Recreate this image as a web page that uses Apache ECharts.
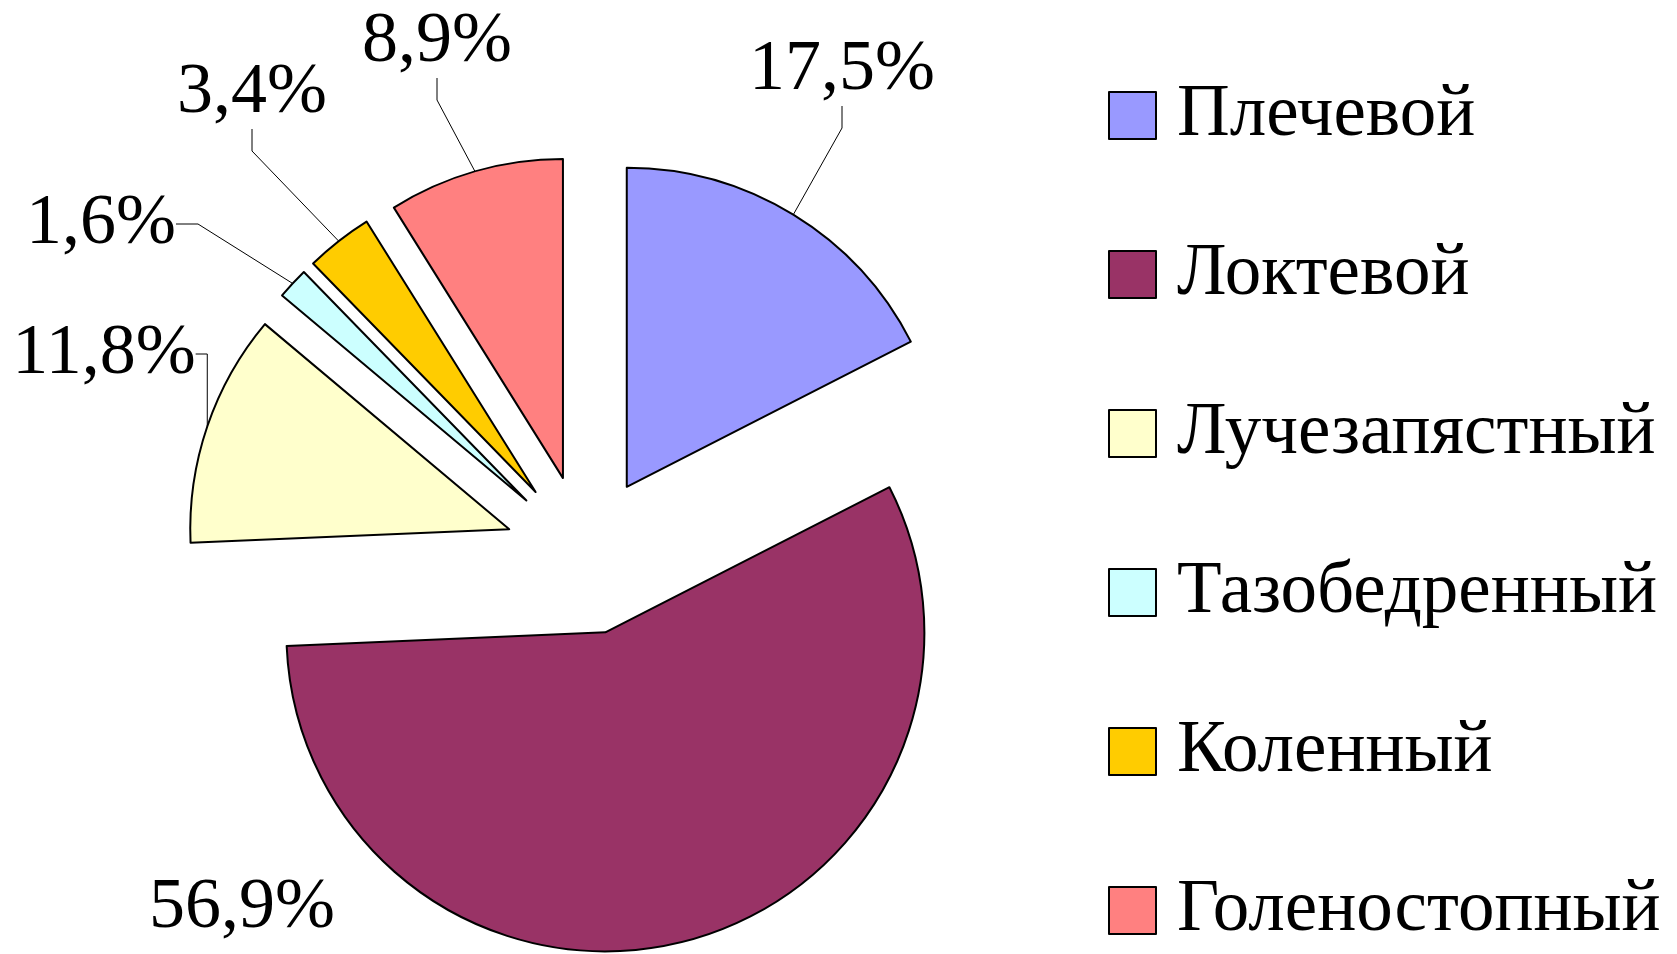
<!DOCTYPE html>
<html>
<head>
<meta charset="utf-8">
<script src="https://cdn.jsdelivr.net/npm/echarts@6/dist/echarts.min.js"></script>
<style>
  html, body { margin: 0; padding: 0; background: #ffffff; }
  #chart { width: 1677px; height: 954px; }
</style>
</head>
<body>
<div id="chart"></div>
<script>
// суставы и доли, %
var categories = ['Плечевой', 'Локтевой', 'Лучезапястный', 'Тазобедренный', 'Коленный', 'Голеностопный'];
var shares = [17.5, 56.9, 11.8, 1.6, 3.4, 8.9];
var colors = ['#9999FF', '#993366', '#FFFFCC', '#CCFFFF', '#FFCC00', '#FF8080'];

var font = '"Liberation Serif", "Times New Roman", serif';

// геометрия круга и выноса секторов
var pieCenter = [585, 555];
var pieRadius = 319;
var explode = 80;

// где стоят подписи (как в исходной диаграмме)
var labelSpots = [[842, 70], [242, 908], [104, 354], [101, 224], [252, 93], [437, 42]];

var chart = echarts.init(document.getElementById('chart'));

var total = shares.reduce(function (a, b) { return a + b; }, 0);

// каждый сектор -- отдельный круг со сдвинутым центром, остальное прозрачное
var series = [];
var cum = 0;
shares.forEach(function (v, i) {
  var mid = (cum + v / 2) / total * 2 * Math.PI;
  var start = 90 - cum / total * 360;
  cum += v;
  series.push({
    type: 'pie',
    center: [pieCenter[0] + explode * Math.sin(mid), pieCenter[1] - explode * Math.cos(mid)],
    radius: pieRadius,
    startAngle: start,
    clockwise: true,
    avoidLabelOverlap: false,
    emphasis: { disabled: true },
    label: {
      show: true,
      position: 'outside',
      fontFamily: font,
      fontSize: 72,
      color: '#000',
      formatter: function (p) { return p.value.toFixed(1).replace('.', ',') + '%'; }
    },
    labelLine: {
      show: i !== 1,
      length: 20,
      length2: 22,
      lineStyle: { color: '#000', width: 1 }
    },
    labelLayout: function (p) {
      if (p.dataIndex !== 0) return;
      var s = labelSpots[i];
      return { x: s[0], y: s[1], align: 'center', verticalAlign: 'middle' };
    },
    data: [
      {
        name: categories[i],
        value: v,
        itemStyle: { color: colors[i], borderColor: '#000', borderWidth: 2 }
      },
      {
        name: '',
        value: total - v,
        itemStyle: { color: 'transparent', borderWidth: 0 },
        label: { show: false },
        labelLine: { show: false },
        silent: true
      }
    ]
  });
});

var option = {
  backgroundColor: '#ffffff',
  animation: false,
  legend: {
    orient: 'vertical',
    left: 1108,
    top: 79,
    height: 875,
    padding: 0,
    itemWidth: 47,
    itemHeight: 47,
    itemGap: 86,
    icon: 'rect',
    selectedMode: false,
    itemStyle: { borderColor: '#000', borderWidth: 2 },
    textStyle: { fontFamily: font, fontSize: 73, color: '#000', padding: [0, 0, 0, 16] },
    data: categories
  },
  series: series
};

chart.setOption(option);
</script>
</body>
</html>
